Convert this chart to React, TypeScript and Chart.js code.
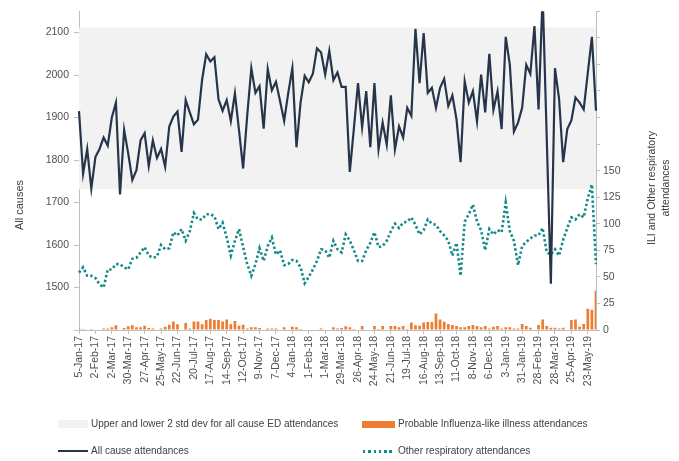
import React, { useEffect, useRef } from 'react';
import { Chart, registerables } from 'chart.js';

Chart.register(...registerables);

// Weekly categories (week starting dates)
const categories = [
  '5-Jan-17', '12-Jan-17', '19-Jan-17', '26-Jan-17', '2-Feb-17', '9-Feb-17', '16-Feb-17', '23-Feb-17',
  '2-Mar-17', '9-Mar-17', '16-Mar-17', '23-Mar-17', '30-Mar-17', '6-Apr-17', '13-Apr-17', '20-Apr-17',
  '27-Apr-17', '4-May-17', '11-May-17', '18-May-17', '25-May-17', '1-Jun-17', '8-Jun-17', '15-Jun-17',
  '22-Jun-17', '29-Jun-17', '6-Jul-17', '13-Jul-17', '20-Jul-17', '27-Jul-17', '3-Aug-17', '10-Aug-17',
  '17-Aug-17', '24-Aug-17', '31-Aug-17', '7-Sep-17', '14-Sep-17', '21-Sep-17', '28-Sep-17', '5-Oct-17',
  '12-Oct-17', '19-Oct-17', '26-Oct-17', '2-Nov-17', '9-Nov-17', '16-Nov-17', '23-Nov-17', '30-Nov-17',
  '7-Dec-17', '14-Dec-17', '21-Dec-17', '28-Dec-17', '4-Jan-18', '11-Jan-18', '18-Jan-18', '25-Jan-18',
  '1-Feb-18', '8-Feb-18', '15-Feb-18', '22-Feb-18', '1-Mar-18', '8-Mar-18', '15-Mar-18', '22-Mar-18',
  '29-Mar-18', '5-Apr-18', '12-Apr-18', '19-Apr-18', '26-Apr-18', '3-May-18', '10-May-18', '17-May-18',
  '24-May-18', '31-May-18', '7-Jun-18', '14-Jun-18', '21-Jun-18', '28-Jun-18', '5-Jul-18', '12-Jul-18',
  '19-Jul-18', '26-Jul-18', '2-Aug-18', '9-Aug-18', '16-Aug-18', '23-Aug-18', '30-Aug-18', '6-Sep-18',
  '13-Sep-18', '20-Sep-18', '27-Sep-18', '4-Oct-18', '11-Oct-18', '18-Oct-18', '25-Oct-18', '1-Nov-18',
  '8-Nov-18', '15-Nov-18', '22-Nov-18', '29-Nov-18', '6-Dec-18', '13-Dec-18', '20-Dec-18', '27-Dec-18',
  '3-Jan-19', '10-Jan-19', '17-Jan-19', '24-Jan-19', '31-Jan-19', '7-Feb-19', '14-Feb-19', '21-Feb-19',
  '28-Feb-19', '7-Mar-19', '14-Mar-19', '21-Mar-19', '28-Mar-19', '4-Apr-19', '11-Apr-19', '18-Apr-19',
  '25-Apr-19', '2-May-19', '9-May-19', '16-May-19', '23-May-19', '30-May-19', '6-Jun-19',
];

// All cause ED attendances (left axis)
const allCause = [
  1915, 1768, 1826, 1733, 1807, 1826, 1853, 1834, 1900, 1935,
  1719, 1871, 1815, 1753, 1776, 1846, 1863, 1786, 1846, 1805,
  1826, 1784, 1879, 1902, 1914, 1819, 1941, 1912, 1884, 1895,
  1989, 2049, 2032, 2042, 1943, 1916, 1941, 1892, 1957, 1870,
  1780, 1905, 2016, 1958, 1974, 1874, 2014, 1964, 1984, 1939,
  1892, 1958, 2016, 1830, 1935, 1998, 1983, 2003, 2063, 2053,
  2001, 2057, 1988, 2006, 1972, 1972, 1772, 1875, 1981, 1877,
  1962, 1830, 1981, 1825, 1888, 1836, 1952, 1825, 1879, 1853,
  1923, 1904, 2109, 1981, 2099, 1958, 1970, 1923, 1970, 1991,
  1927, 1952, 1896, 1795, 1985, 1935, 1962, 1891, 2001, 1912,
  2050, 1918, 1962, 1873, 2090, 2024, 1867, 1888, 1923, 2024,
  2003, 2115, 1919, 2190, 1850, 1509, 2016, 1944, 1795, 1873,
  1893, 1947, 1935, 1919, 2005, 2090, 1916,
];

// Other respiratory attendances (right axis)
const otherResp = [
  54, 59, 51, 51, 49, 43, 40, 57, 57, 62,
  62, 59, 57, 67, 68, 73, 78, 70, 68, 69,
  80, 76, 77, 92, 89, 95, 84, 93, 110, 104,
  104, 109, 109, 107, 95, 101, 87, 70, 84, 95,
  78, 62, 51, 62, 77, 65, 79, 87, 71, 75,
  61, 62, 66, 65, 59, 44, 50, 57, 65, 76,
  75, 68, 84, 76, 73, 90, 84, 75, 65, 65,
  75, 82, 92, 78, 79, 84, 93, 100, 96, 101,
  102, 106, 99, 90, 94, 104, 100, 99, 93, 89,
  84, 70, 82, 51, 102, 109, 118, 102, 94, 75,
  95, 90, 94, 92, 120, 93, 84, 61, 79, 83,
  86, 89, 89, 96, 73, 71, 76, 70, 85, 96,
  106, 104, 109, 106, 124, 137, 62,
];

// Probable influenza-like illness attendances (right axis)
const ili = [
  1.5, 1, 0, 1, 0, 0, 1.5, 1.5, 2.5, 4.5,
  0, 2, 3.5, 4.5, 2.5, 2.5, 4, 2, 1.5, 0,
  1.5, 3, 5, 8, 5.5, 0.5, 6.5, 1.5, 8, 8,
  5.5, 9.5, 10.5, 9.5, 9.5, 8, 10, 5.5, 8.5, 4,
  5, 1.5, 2.5, 2.5, 2, 0, 1.5, 1.5, 1.5, 0,
  2.5, 0, 3, 2.5, 1, 0, 0, 0, 0, 1.5,
  0, 0, 2.5, 1.5, 2, 3.5, 2.5, 1, 0, 3.7,
  0, 0, 3.7, 1, 3.7, 0, 3.7, 3.7, 2.5, 3.7,
  1, 7, 4.5, 4, 7, 7.5, 7.5, 15.5, 10, 7.8,
  5.6, 4.7, 3.7, 2.5, 2.5, 3.7, 4.7, 3.7, 2.5, 3.7,
  1.5, 3, 3.7, 1.5, 2.5, 2.5, 1.5, 1.5, 5.6, 3.7,
  2.2, 0, 4.7, 10, 3.7, 2.2, 2.2, 1.5, 2.2, 0,
  9.3, 10, 3, 5.6, 20, 19, 37,
];

// Upper and lower 2 std dev band for all cause ED attendances
const bandUpper = 2112;
const bandLower = 1731;

const leftTickHidden = [1400];
const rightTickMaxLabel = 150;

const FONT = "'Liberation Sans', Arial, sans-serif";
const NAVY = '#26354a';
const TEAL = '#138a88';
const ORANGE = '#ed7d31';
const BAND = '#f2f2f2';
const AXIS = '#bfbfbf';
const TICK = '#505050';

const axisTitles = {
  id: 'axisTitles',
  afterDraw(chart: any) {
    const { ctx } = chart;
    ctx.save();
    ctx.fillStyle = '#404040';
    ctx.textAlign = 'center';
    ctx.textBaseline = 'middle';
    ctx.font = `11px ${FONT}`;
    ctx.save();
    ctx.translate(20, 205);
    ctx.rotate(-Math.PI / 2);
    ctx.fillText('All causes', 0, 0);
    ctx.restore();
    ctx.font = `10.5px ${FONT}`;
    ctx.save();
    ctx.translate(652, 188);
    ctx.rotate(-Math.PI / 2);
    ctx.fillText('ILI and Other respiratory', 0, 0);
    ctx.restore();
    ctx.save();
    ctx.translate(666, 188);
    ctx.rotate(-Math.PI / 2);
    ctx.fillText('attendances', 0, 0);
    ctx.restore();
    ctx.restore();
  },
};

export default function App() {
  const ref = useRef<HTMLCanvasElement>(null);

  useEffect(() => {
    if (!ref.current) return;
    const chart = new Chart(ref.current, {
      type: 'bar',
      data: {
        labels: categories,
        datasets: [
          {
            type: 'line',
            label: 'All cause attendances',
            data: allCause,
            yAxisID: 'y',
            borderColor: NAVY,
            borderWidth: 2.2,
            pointRadius: 0,
            tension: 0,
            order: 1,
          } as any,
          {
            type: 'line',
            label: 'Other respiratory attendances',
            data: otherResp,
            yAxisID: 'y1',
            borderColor: TEAL,
            borderWidth: 2.6,
            borderDash: [2.4, 2.4],
            borderCapStyle: 'butt',
            pointRadius: 0,
            tension: 0,
            order: 2,
          } as any,
          {
            type: 'bar',
            label: 'Probable Influenza-like illness attendances',
            data: ili,
            yAxisID: 'y1',
            backgroundColor: ORANGE,
            barPercentage: 0.66,
            categoryPercentage: 1,
            order: 3,
          } as any,
          {
            type: 'line',
            label: 'Upper 2 std dev',
            data: categories.map(() => bandUpper),
            yAxisID: 'y',
            borderWidth: 0,
            borderColor: 'rgba(0,0,0,0)',
            backgroundColor: BAND,
            pointRadius: 0,
            fill: '+1',
            order: 10,
          } as any,
          {
            type: 'line',
            label: 'Lower 2 std dev',
            data: categories.map(() => bandLower),
            yAxisID: 'y',
            borderWidth: 0,
            borderColor: 'rgba(0,0,0,0)',
            pointRadius: 0,
            fill: false,
            order: 11,
          } as any,
        ],
      },
      options: {
        responsive: false,
        animation: false,
        devicePixelRatio: 1,
        layout: { padding: { top: 8, left: 0, right: 0, bottom: 0 } },
        plugins: {
          legend: { display: false },
          tooltip: { enabled: false },
        },
        scales: {
          x: {
            type: 'category',
            offset: false,
            grid: {
              offset: false,
              drawOnChartArea: false,
              drawTicks: true,
              tickLength: 4,
              color: (c: any) => (c.index % 4 === 0 ? AXIS : 'rgba(0,0,0,0)'),
            },
            border: { color: AXIS, width: 1 },
            ticks: {
              autoSkip: false,
              maxRotation: 90,
              minRotation: 90,
              padding: 2,
              color: TICK,
              font: { family: FONT, size: 10.5 },
              callback: (_v: any, i: number) => (i % 4 === 0 ? categories[i] : ''),
            },
            afterFit: (s: any) => {
              s.height = 131;
            },
          },
          y: {
            position: 'left',
            min: 1400,
            max: 2150,
            grid: { drawOnChartArea: false, tickLength: 5, color: AXIS },
            border: { color: AXIS, width: 1 },
            ticks: {
              stepSize: 100,
              includeBounds: false,
              padding: 5,
              color: TICK,
              font: { family: FONT, size: 10.5 },
              callback: (v: any) => (leftTickHidden.includes(v) ? '' : v),
            },
            afterFit: (s: any) => {
              s.width = 79;
            },
          },
          y1: {
            position: 'right',
            min: 0,
            max: 300,
            grid: { drawOnChartArea: false, tickLength: 4, color: AXIS },
            border: { color: AXIS, width: 1 },
            ticks: {
              stepSize: 25,
              padding: 3,
              color: TICK,
              font: { family: FONT, size: 10.5 },
              callback: (v: any) => (v <= rightTickMaxLabel ? v : ''),
            },
            afterFit: (s: any) => {
              s.width = 83;
            },
          },
        },
      } as any,
      plugins: [axisTitles],
    });
    return () => chart.destroy();
  }, []);

  const textStyle: React.CSSProperties = {
    position: 'absolute',
    fontFamily: FONT,
    fontSize: 10,
    lineHeight: '12px',
    color: '#404040',
    whiteSpace: 'nowrap',
  };

  return (
    <div style={{ position: 'absolute', left: 0, top: 0, width: 679, height: 461, background: '#fff' }}>
      <canvas ref={ref} width={679} height={461} style={{ display: 'block', width: 679, height: 461 }} />
      <div style={{ position: 'absolute', left: 58, top: 420, width: 30, height: 8, background: BAND }} />
      <div style={{ ...textStyle, left: 91, top: 418 }}>Upper and lower 2 std dev for all cause ED attendances</div>
      <div style={{ position: 'absolute', left: 362, top: 421, width: 33, height: 7, background: ORANGE }} />
      <div style={{ ...textStyle, left: 398, top: 418 }}>Probable Influenza-like illness attendances</div>
      <div style={{ position: 'absolute', left: 58, top: 450, width: 30, height: 2, background: NAVY }} />
      <div style={{ ...textStyle, left: 91, top: 445 }}>All cause attendances</div>
      <div
        style={{
          position: 'absolute',
          left: 363,
          top: 450,
          width: 32,
          height: 2.5,
          background: `repeating-linear-gradient(to right, ${TEAL} 0px, ${TEAL} 2.5px, rgba(0,0,0,0) 2.5px, rgba(0,0,0,0) 5.3px)`,
        }}
      />
      <div style={{ ...textStyle, left: 398, top: 445 }}>Other respiratory attendances</div>
    </div>
  );
}
